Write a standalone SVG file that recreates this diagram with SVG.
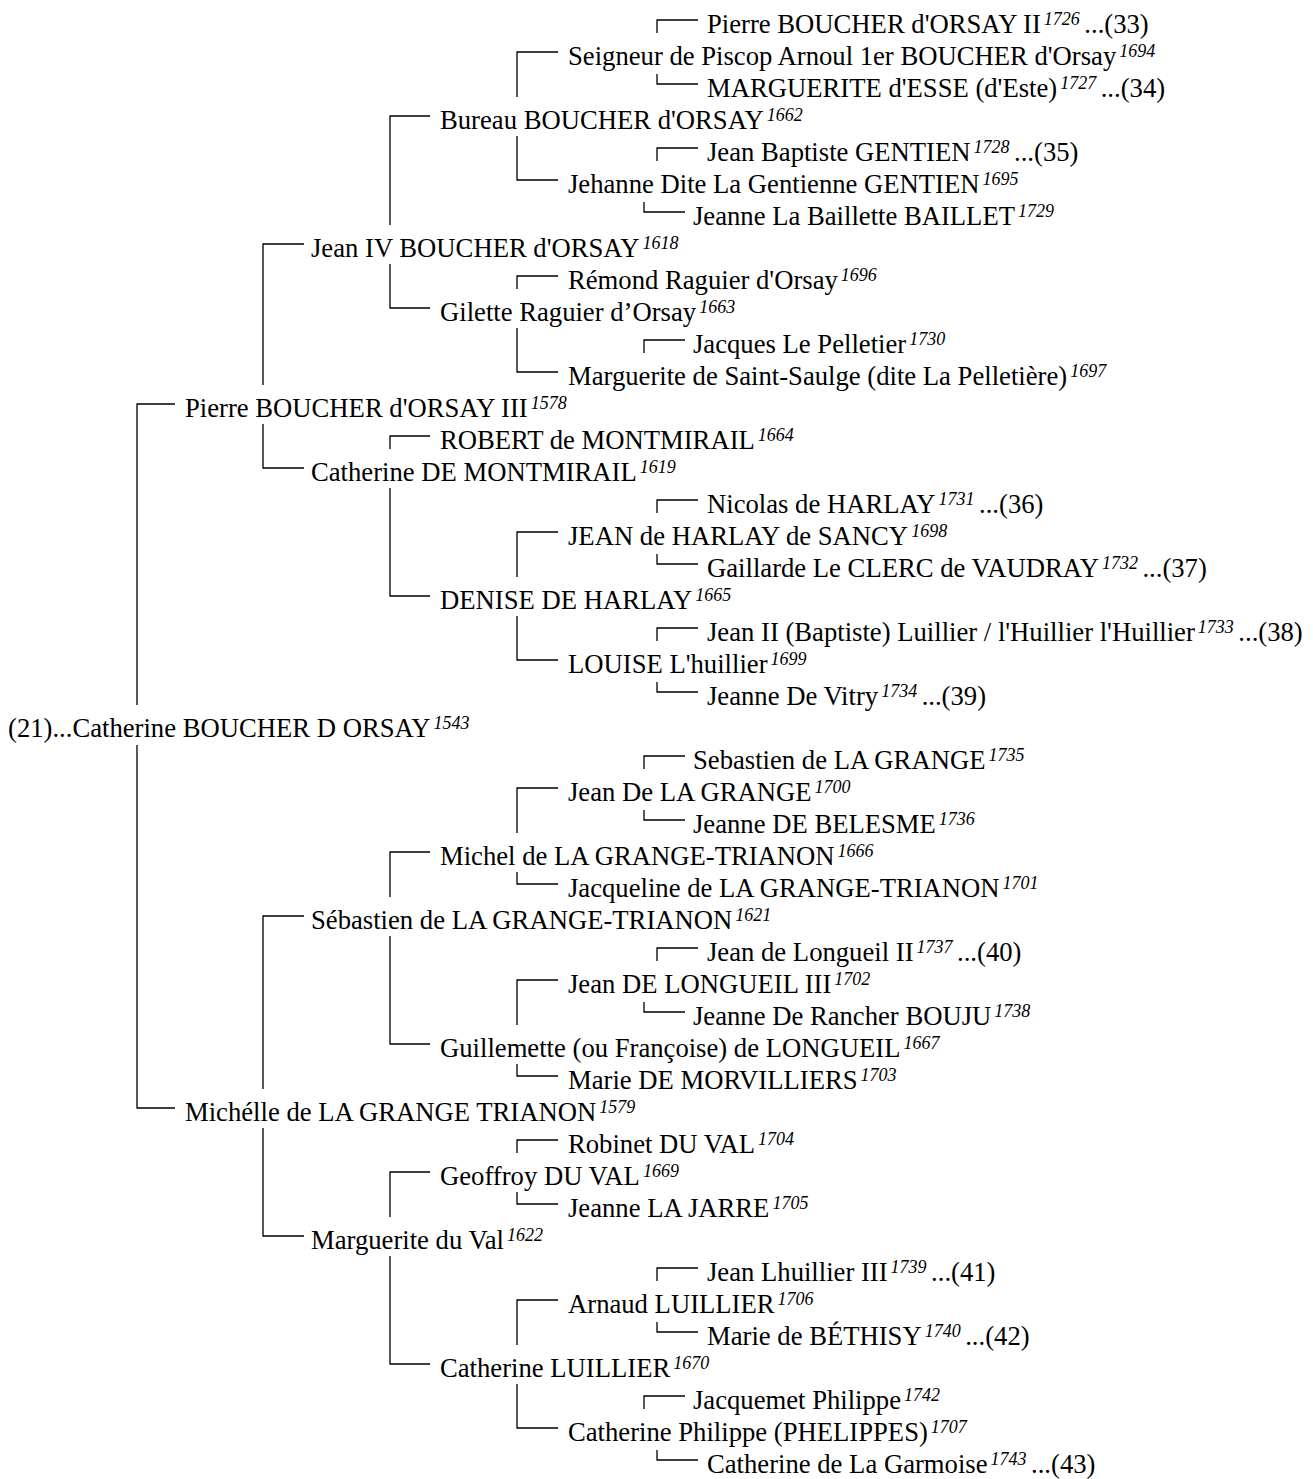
<svg xmlns="http://www.w3.org/2000/svg" width="1313" height="1479" viewBox="0 0 1313 1479">
<style>
text{font-family:"Liberation Serif","Times New Roman",serif;font-size:26.67px;fill:#000}
.s{font-size:18px;font-style:italic}
#connectors path{fill:none;stroke:#000;stroke-width:1.3}
</style>
<rect width="1313" height="1479" fill="#fff"/>
<g id="connectors">
<path d="M175,404 H137 V705"/><path d="M137,745 V1108 H175"/>
<path d="M304,244 H263 V385"/><path d="M263,424 V468 H304"/>
<path d="M304,916 H263 V1089"/><path d="M263,1128 V1236 H304"/>
<path d="M430,116 H390 V225"/><path d="M390,264 V308 H430"/>
<path d="M430,436 H390 V449"/><path d="M390,488 V596 H430"/>
<path d="M430,852 H390 V897"/><path d="M390,936 V1044 H430"/>
<path d="M430,1172 H390 V1217"/><path d="M390,1256 V1364 H430"/>
<path d="M558,52 H517 V97"/><path d="M517,136 V180 H558"/>
<path d="M558,276 H517 V289"/><path d="M517,328 V372 H558"/>
<path d="M558,532 H517 V577"/><path d="M517,616 V660 H558"/>
<path d="M558,788 H517 V833"/><path d="M517,872 V884 H558"/>
<path d="M558,980 H517 V1025"/><path d="M517,1064 V1076 H558"/>
<path d="M558,1140 H517 V1153"/><path d="M517,1192 V1204 H558"/>
<path d="M558,1300 H517 V1345"/><path d="M517,1384 V1428 H558"/>
<path d="M698,20 H657 V33"/><path d="M657,74 V84 H698"/>
<path d="M698,148 H657 V161"/><path d="M644,202 V212 H685"/>
<path d="M685,340 H644 V353"/>
<path d="M698,500 H657 V513"/><path d="M657,554 V564 H698"/>
<path d="M698,628 H657 V641"/><path d="M657,682 V692 H698"/>
<path d="M685,756 H644 V769"/><path d="M644,810 V820 H685"/>
<path d="M698,948 H657 V961"/><path d="M644,1002 V1012 H685"/>
<path d="M698,1268 H657 V1281"/><path d="M657,1322 V1332 H698"/>
<path d="M685,1396 H644 V1409"/><path d="M657,1450 V1460 H698"/>
</g>
<g id="n1"><text x="707" y="33">Pierre BOUCHER d'ORSAY II<tspan class="s" dx="3" dy="-8">1726 </tspan><tspan dy="8">...(33)</tspan></text></g>
<g id="n2"><text x="568" y="65">Seigneur de Piscop Arnoul 1er BOUCHER d'Orsay<tspan class="s" dx="3" dy="-8">1694</tspan></text></g>
<g id="n3"><text x="707" y="97">MARGUERITE d'ESSE (d'Este)<tspan class="s" dx="3" dy="-8">1727 </tspan><tspan dy="8">...(34)</tspan></text></g>
<g id="n4"><text x="440" y="129">Bureau BOUCHER d'ORSAY<tspan class="s" dx="3" dy="-8">1662</tspan></text></g>
<g id="n5"><text x="707" y="161">Jean Baptiste GENTIEN<tspan class="s" dx="3" dy="-8">1728 </tspan><tspan dy="8">...(35)</tspan></text></g>
<g id="n6"><text x="568" y="193">Jehanne Dite La Gentienne GENTIEN<tspan class="s" dx="3" dy="-8">1695</tspan></text></g>
<g id="n7"><text x="693" y="225">Jeanne La Baillette BAILLET<tspan class="s" dx="3" dy="-8">1729</tspan></text></g>
<g id="n8"><text x="311" y="257">Jean IV BOUCHER d'ORSAY<tspan class="s" dx="3" dy="-8">1618</tspan></text></g>
<g id="n9"><text x="568" y="289">Rémond Raguier d'Orsay<tspan class="s" dx="3" dy="-8">1696</tspan></text></g>
<g id="n10"><text x="440" y="321">Gilette Raguier d’Orsay<tspan class="s" dx="3" dy="-8">1663</tspan></text></g>
<g id="n11"><text x="693" y="353">Jacques Le Pelletier<tspan class="s" dx="3" dy="-8">1730</tspan></text></g>
<g id="n12"><text x="568" y="385">Marguerite de Saint-Saulge (dite La Pelletière)<tspan class="s" dx="3" dy="-8">1697</tspan></text></g>
<g id="n13"><text x="185" y="417">Pierre BOUCHER d'ORSAY III<tspan class="s" dx="3" dy="-8">1578</tspan></text></g>
<g id="n14"><text x="440" y="449">ROBERT de MONTMIRAIL<tspan class="s" dx="3" dy="-8">1664</tspan></text></g>
<g id="n15"><text x="311" y="481">Catherine DE MONTMIRAIL<tspan class="s" dx="3" dy="-8">1619</tspan></text></g>
<g id="n16"><text x="707" y="513">Nicolas de HARLAY<tspan class="s" dx="3" dy="-8">1731 </tspan><tspan dy="8">...(36)</tspan></text></g>
<g id="n17"><text x="568" y="545">JEAN de HARLAY de SANCY<tspan class="s" dx="3" dy="-8">1698</tspan></text></g>
<g id="n18"><text x="707" y="577">Gaillarde Le CLERC de VAUDRAY<tspan class="s" dx="3" dy="-8">1732 </tspan><tspan dy="8">...(37)</tspan></text></g>
<g id="n19"><text x="440" y="609">DENISE DE HARLAY<tspan class="s" dx="3" dy="-8">1665</tspan></text></g>
<g id="n20"><text x="707" y="641">Jean II (Baptiste) Luillier / l'Huillier l'Huillier<tspan class="s" dx="3" dy="-8">1733 </tspan><tspan dy="8">...(38)</tspan></text></g>
<g id="n21"><text x="568" y="673">LOUISE L'huillier<tspan class="s" dx="3" dy="-8">1699</tspan></text></g>
<g id="n22"><text x="707" y="705">Jeanne De Vitry<tspan class="s" dx="3" dy="-8">1734 </tspan><tspan dy="8">...(39)</tspan></text></g>
<g id="n23"><text x="8" y="737">(21)...Catherine BOUCHER D ORSAY<tspan class="s" dx="3" dy="-8">1543</tspan></text></g>
<g id="n24"><text x="693" y="769">Sebastien de LA GRANGE<tspan class="s" dx="3" dy="-8">1735</tspan></text></g>
<g id="n25"><text x="568" y="801">Jean De LA GRANGE<tspan class="s" dx="3" dy="-8">1700</tspan></text></g>
<g id="n26"><text x="693" y="833">Jeanne DE BELESME<tspan class="s" dx="3" dy="-8">1736</tspan></text></g>
<g id="n27"><text x="440" y="865">Michel de LA GRANGE-TRIANON<tspan class="s" dx="3" dy="-8">1666</tspan></text></g>
<g id="n28"><text x="568" y="897">Jacqueline de LA GRANGE-TRIANON<tspan class="s" dx="3" dy="-8">1701</tspan></text></g>
<g id="n29"><text x="311" y="929">Sébastien de LA GRANGE-TRIANON<tspan class="s" dx="3" dy="-8">1621</tspan></text></g>
<g id="n30"><text x="707" y="961">Jean de Longueil II<tspan class="s" dx="3" dy="-8">1737 </tspan><tspan dy="8">...(40)</tspan></text></g>
<g id="n31"><text x="568" y="993">Jean DE LONGUEIL III<tspan class="s" dx="3" dy="-8">1702</tspan></text></g>
<g id="n32"><text x="693" y="1025">Jeanne De Rancher BOUJU<tspan class="s" dx="3" dy="-8">1738</tspan></text></g>
<g id="n33"><text x="440" y="1057">Guillemette (ou Françoise) de LONGUEIL<tspan class="s" dx="3" dy="-8">1667</tspan></text></g>
<g id="n34"><text x="568" y="1089">Marie DE MORVILLIERS<tspan class="s" dx="3" dy="-8">1703</tspan></text></g>
<g id="n35"><text x="185" y="1121">Michélle de LA GRANGE TRIANON<tspan class="s" dx="3" dy="-8">1579</tspan></text></g>
<g id="n36"><text x="568" y="1153">Robinet DU VAL<tspan class="s" dx="3" dy="-8">1704</tspan></text></g>
<g id="n37"><text x="440" y="1185">Geoffroy DU VAL<tspan class="s" dx="3" dy="-8">1669</tspan></text></g>
<g id="n38"><text x="568" y="1217">Jeanne LA JARRE<tspan class="s" dx="3" dy="-8">1705</tspan></text></g>
<g id="n39"><text x="311" y="1249">Marguerite du Val<tspan class="s" dx="3" dy="-8">1622</tspan></text></g>
<g id="n40"><text x="707" y="1281">Jean Lhuillier III<tspan class="s" dx="3" dy="-8">1739 </tspan><tspan dy="8">...(41)</tspan></text></g>
<g id="n41"><text x="568" y="1313">Arnaud LUILLIER<tspan class="s" dx="3" dy="-8">1706</tspan></text></g>
<g id="n42"><text x="707" y="1345">Marie de BÉTHISY<tspan class="s" dx="3" dy="-8">1740 </tspan><tspan dy="8">...(42)</tspan></text></g>
<g id="n43"><text x="440" y="1377">Catherine LUILLIER<tspan class="s" dx="3" dy="-8">1670</tspan></text></g>
<g id="n44"><text x="693" y="1409">Jacquemet Philippe<tspan class="s" dx="3" dy="-8">1742</tspan></text></g>
<g id="n45"><text x="568" y="1441">Catherine Philippe (PHELIPPES)<tspan class="s" dx="3" dy="-8">1707</tspan></text></g>
<g id="n46"><text x="707" y="1473">Catherine de La Garmoise<tspan class="s" dx="3" dy="-8">1743 </tspan><tspan dy="8">...(43)</tspan></text></g>
</svg>
